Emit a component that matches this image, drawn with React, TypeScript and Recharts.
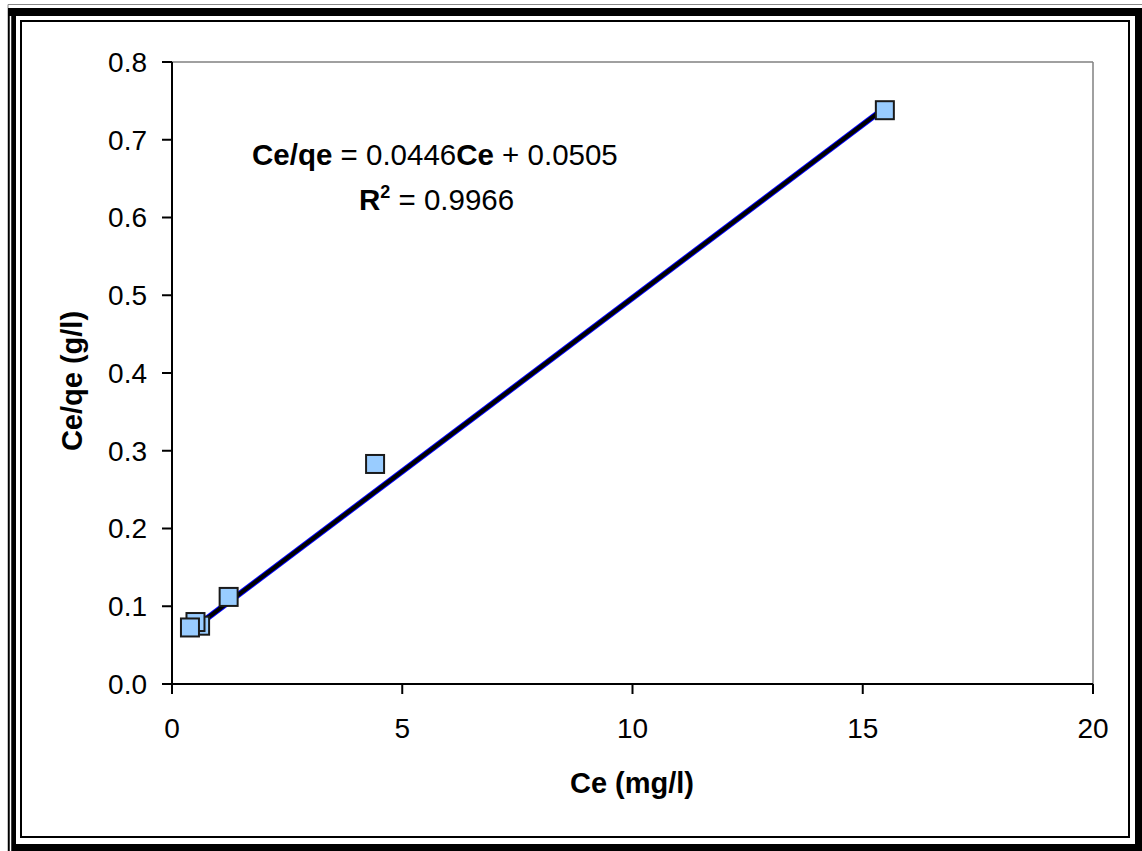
import { ComposedChart, Label, Line, ReferenceLine, Scatter, XAxis, YAxis } from "recharts";

const FONT = "'Liberation Sans', Arial, sans-serif";
const MARKER_FILL = "#99ccff";
const PLOT_EDGE = "#808080";

// Langmuir linearisation: equilibrium concentration vs Ce/qe
const CE = [15.48, 4.41, 1.23, 0.61, 0.51, 0.39];
const CE_QE = [0.738, 0.283, 0.112, 0.075, 0.0797, 0.0727];

const SLOPE = 0.0446;
const INTERCEPT = 0.0505;
const R2 = 0.9966;

const X_TICKS = [0, 5, 10, 15, 20];
const Y_TICKS = [0, 0.1, 0.2, 0.3, 0.4, 0.5, 0.6, 0.7, 0.8];

const points = CE.map((ce, i) => ({ ce, ceqe: CE_QE[i] }));
const fitLine = [Math.min(...CE), Math.max(...CE)].map((ce) => ({ ce, fit: SLOPE * ce + INTERCEPT }));

function SquareMarker(props: any) {
  const { cx, cy } = props;
  if (cx == null || cy == null) return null;
  return <rect x={cx - 9} y={cy - 9} width={18} height={18} fill={MARKER_FILL} stroke="#1a1a1a" strokeWidth={2} />;
}

function Frame() {
  return (
    <svg width={1142} height={851} style={{ position: "absolute", left: 0, top: 0, pointerEvents: "none" }}>
      <path d="M 8 851 V 4.5 H 1142" fill="none" stroke="#888" strokeWidth={1} />
      <rect x={12} y={12} width={1127} height={836} fill="none" stroke="#000" strokeWidth={8} />
      <line x1={10.5} y1={16} x2={10.5} y2={851} stroke="#fff" strokeWidth={1.5} />
      <rect x={21} y={21} width={1108} height={816} fill="none" stroke="#000" strokeWidth={2} />
      <g fontFamily={FONT} fontSize={29.5} fill="#000">
        <text x={252} y={165}>
          <tspan fontWeight="bold">Ce/qe</tspan>
          <tspan> = {SLOPE}</tspan>
          <tspan fontWeight="bold">Ce</tspan>
          <tspan> + {INTERCEPT}</tspan>
        </text>
        <text x={359} y={210}>
          <tspan fontWeight="bold">R</tspan>
          <tspan fontWeight="bold" fontSize={18} dy={-12}>2</tspan>
          <tspan dy={12}> = {R2}</tspan>
        </text>
      </g>
    </svg>
  );
}

export default function App() {
  return (
    <div style={{ position: "absolute", left: 0, top: 0, width: 1142, height: 851, background: "#fff" }}>
      <ComposedChart width={1142} height={851} margin={{ top: 62, right: 49, left: 112, bottom: 107 }}>
        <XAxis
          dataKey="ce"
          type="number"
          domain={[0, 20]}
          ticks={X_TICKS}
          allowDataOverflow
          height={60}
          stroke="#000"
          strokeWidth={2}
          tickSize={10}
          tickMargin={24}
          tick={{ fontSize: 28, fill: "#000", fontFamily: FONT }}
        >
          <Label
            content={() => (
              <text x={632} y={793} textAnchor="middle" fontFamily={FONT} fontSize={29} fontWeight="bold" fill="#000">
                Ce (mg/l)
              </text>
            )}
          />
        </XAxis>
        <YAxis
          type="number"
          domain={[0, 0.8]}
          ticks={Y_TICKS}
          allowDataOverflow
          width={60}
          stroke="#000"
          strokeWidth={2}
          tickSize={10}
          tickMargin={15}
          tickFormatter={(v: number) => v.toFixed(1)}
          tick={{ fontSize: 28, fill: "#000", fontFamily: FONT }}
        >
          <Label
            content={() => (
              <text
                x={82}
                y={381}
                transform="rotate(-90 82 381)"
                textAnchor="middle"
                fontFamily={FONT}
                fontSize={29}
                fontWeight="bold"
                fill="#000"
              >
                Ce/qe (g/l)
              </text>
            )}
          />
        </YAxis>
        <ReferenceLine y={0.8} stroke={PLOT_EDGE} strokeWidth={1.5} />
        <ReferenceLine x={20} stroke={PLOT_EDGE} strokeWidth={1.5} />
        <Scatter data={points} dataKey="ceqe" shape={SquareMarker} isAnimationActive={false} />
        <Line data={fitLine} dataKey="fit" type="linear" stroke="#0000ff" strokeWidth={6} dot={false} isAnimationActive={false} />
        <Line data={fitLine} dataKey="fit" type="linear" stroke="#000" strokeWidth={4} dot={false} isAnimationActive={false} />
      </ComposedChart>
      <Frame />
    </div>
  );
}
